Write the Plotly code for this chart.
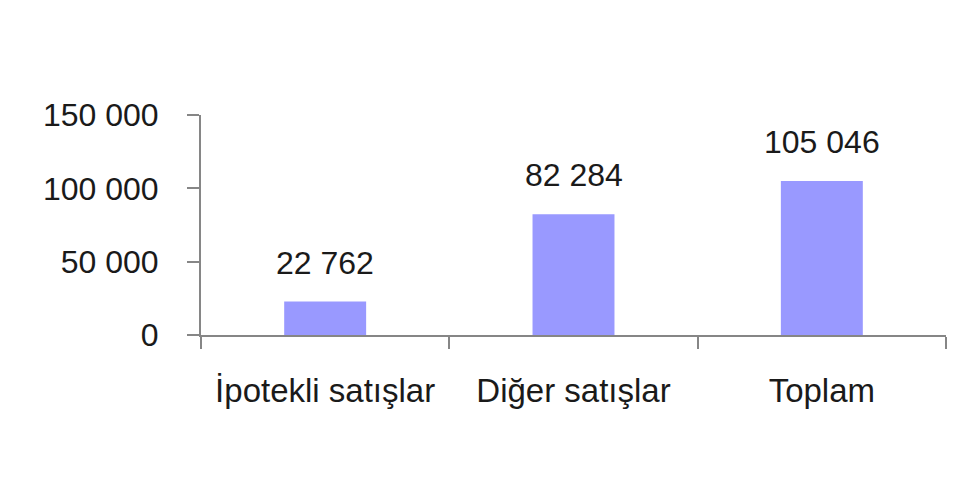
import plotly.graph_objects as go

categories = ["İpotekli satışlar", "Diğer satışlar", "Toplam"]
values = [22762, 82284, 105046]
y_ticks = [0, 50000, 100000, 150000]
y_tick_labels = ["0", "50 000", "100 000", "150 000"]

bar_color = "#9999FF"
axis_color = "#868686"
text_color = "#1a1a1a"
font_family = "Liberation Sans, Arial, sans-serif"

fig = go.Figure()
fig.add_trace(go.Bar(
    x=categories, y=values, width=0.33,
    marker=dict(color=bar_color, line=dict(width=0)),
    hoverinfo="skip",
))

for c, v in zip(categories, values):
    fig.add_annotation(
        x=c, y=v, text=f"{v:,}".replace(",", " "),
        showarrow=False, yanchor="bottom", yshift=19,
        font=dict(family=font_family, size=32, color=text_color),
    )

fig.update_layout(
    width=960, height=496,
    margin=dict(l=193, r=22, t=107, b=169),
    paper_bgcolor="white", plot_bgcolor="white",
    showlegend=False,
    font=dict(family=font_family, color=text_color),
    xaxis=dict(
        showline=True, linecolor=axis_color, linewidth=2,
        ticks="outside", tickson="boundaries", ticklen=12, tickwidth=2, tickcolor=axis_color,
        tickfont=dict(family=font_family, size=33, color=text_color),
        ticklabelstandoff=25,
        showgrid=False, zeroline=False,
    ),
    yaxis=dict(
        range=[0, 150000],
        tickvals=y_ticks, ticktext=y_tick_labels,
        showline=True, linecolor=axis_color, linewidth=2,
        ticks="outside", ticklen=12, tickwidth=2, tickcolor=axis_color,
        tickfont=dict(family=font_family, size=32, color=text_color),
        ticklabelstandoff=22,
        showgrid=False, zeroline=False,
    ),
)

fig.write_html("out.html")
